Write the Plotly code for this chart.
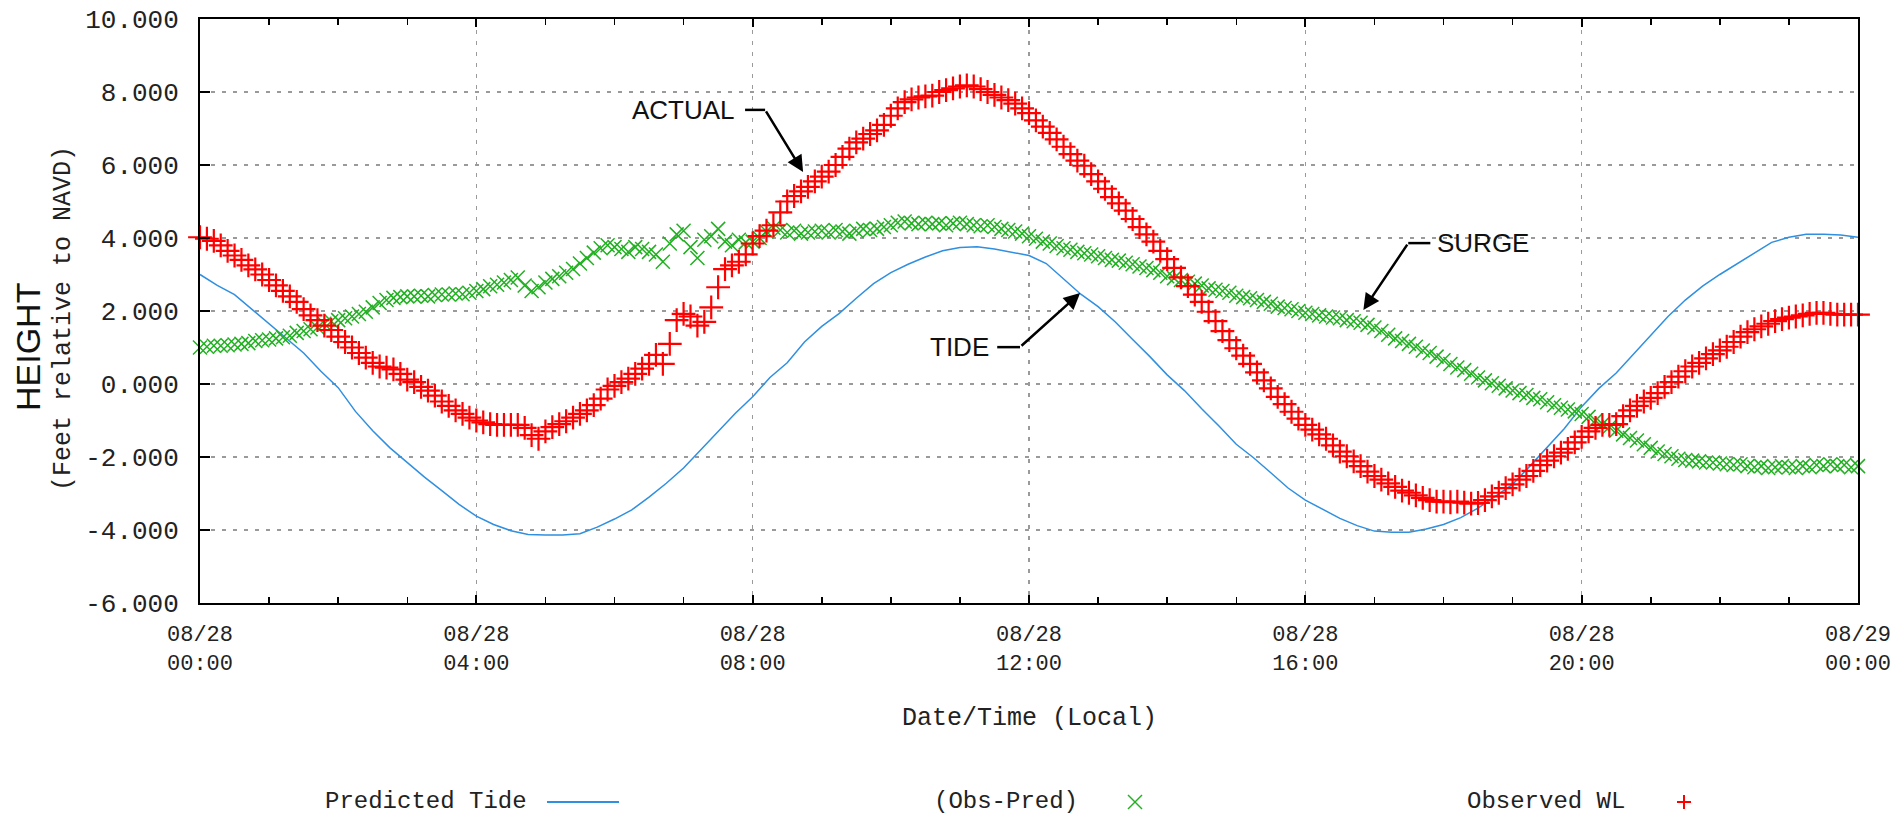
import plotly.graph_objects as go
import pandas as pd

# ---------------- data ----------------
START = "2012-08-28 00:00"
END = "2012-08-29 00:00"

# Predicted tide, every 15 minutes 00:00 .. 24:00
tide_ft = [
    3.00, 2.70, 2.45, 2.05, 1.65, 1.25, 0.85, 0.35,
    -0.10, -0.75, -1.28, -1.75, -2.15, -2.55, -2.92, -3.30,
    -3.62, -3.85, -4.02, -4.12, -4.14, -4.14, -4.10, -3.92,
    -3.70, -3.45, -3.10, -2.72, -2.30, -1.80, -1.30, -0.80,
    -0.35, 0.18, 0.58, 1.15, 1.58, 1.93, 2.35, 2.75,
    3.05, 3.28, 3.48, 3.65, 3.74, 3.76, 3.70, 3.62,
    3.52, 3.30, 2.88, 2.46, 2.12, 1.70, 1.22, 0.75,
    0.25, -0.18, -0.68, -1.15, -1.65, -2.02, -2.43, -2.85,
    -3.18, -3.43, -3.68, -3.88, -4.03, -4.06, -4.06, -3.97,
    -3.85, -3.66, -3.40, -3.08, -2.75, -2.25, -1.72, -1.22,
    -0.62, -0.12, 0.30, 0.82, 1.35, 1.85, 2.30, 2.68,
    3.00, 3.30, 3.60, 3.88, 4.02, 4.10, 4.10, 4.08,
    4.02,
]

# Observed water level, every 6 minutes 00:00 .. 24:00
observed_ft = [
    4.02, 3.98, 3.92, 3.80, 3.65, 3.52, 3.40, 3.25, 3.14, 3.00,
    2.85, 2.70, 2.55, 2.40, 2.25, 2.05, 1.88, 1.75, 1.60, 1.48,
    1.30, 1.15, 1.00, 0.85, 0.72, 0.58, 0.48, 0.45, 0.40, 0.28,
    0.12, 0.05, -0.08, -0.18, -0.32, -0.48, -0.60, -0.72, -0.82, -0.92,
    -1.00, -1.05, -1.10, -1.12, -1.12, -1.12, -1.12, -1.20, -1.40, -1.50,
    -1.30, -1.18, -1.10, -1.02, -0.92, -0.82, -0.72, -0.58, -0.40, -0.15,
    -0.05, 0.05, 0.15, 0.28, 0.42, 0.55, 0.80, 0.55, 1.10, 1.75,
    1.92, 1.85, 1.60, 1.70, 2.10, 2.65, 3.15, 3.25, 3.35, 3.55,
    3.85, 4.05, 4.20, 4.35, 4.70, 5.00, 5.15, 5.28, 5.40, 5.55,
    5.68, 5.82, 6.00, 6.22, 6.45, 6.62, 6.72, 6.85, 6.95, 7.10,
    7.35, 7.55, 7.72, 7.80, 7.85, 7.88, 7.90, 8.00, 8.05, 8.10,
    8.15, 8.18, 8.15, 8.08, 8.00, 7.92, 7.85, 7.78, 7.68, 7.55,
    7.42, 7.22, 7.05, 6.88, 6.70, 6.50, 6.30, 6.12, 5.98, 5.75,
    5.55, 5.35, 5.12, 4.95, 4.75, 4.52, 4.30, 4.10, 3.90, 3.65,
    3.42, 3.18, 2.92, 2.68, 2.45, 2.25, 1.98, 1.72, 1.45, 1.20,
    0.98, 0.78, 0.55, 0.32, 0.10, -0.12, -0.35, -0.55, -0.76, -0.95,
    -1.12, -1.25, -1.38, -1.50, -1.68, -1.85, -1.98, -2.12, -2.25, -2.40,
    -2.52, -2.62, -2.72, -2.82, -2.92, -2.98, -3.05, -3.12, -3.18, -3.22,
    -3.22, -3.24, -3.22, -3.25, -3.28, -3.26, -3.18, -3.08, -2.98, -2.85,
    -2.75, -2.62, -2.52, -2.38, -2.22, -2.10, -1.98, -1.88, -1.78, -1.60,
    -1.45, -1.30, -1.20, -1.12, -1.12, -1.10, -0.88, -0.72, -0.60, -0.48,
    -0.38, -0.25, -0.08, 0.05, 0.20, 0.35, 0.48, 0.58, 0.70, 0.82,
    0.92, 1.02, 1.15, 1.30, 1.42, 1.50, 1.58, 1.65, 1.72, 1.78,
    1.82, 1.85, 1.88, 1.92, 1.95, 1.95, 1.92, 1.90, 1.90, 1.90,
    1.90,
]

# Surge (Obs-Pred), every 6 minutes 00:00 .. 24:00
surge_ft = [
    1.00, 1.02, 1.05, 1.05, 1.06, 1.08, 1.10, 1.12, 1.18, 1.20,
    1.22, 1.25, 1.28, 1.32, 1.40, 1.45, 1.50, 1.55, 1.65, 1.72,
    1.75, 1.80, 1.85, 1.92, 1.98, 2.10, 2.22, 2.30, 2.36, 2.38,
    2.40, 2.40, 2.42, 2.40, 2.44, 2.45, 2.45, 2.48, 2.46, 2.50,
    2.55, 2.60, 2.68, 2.72, 2.78, 2.85, 2.92, 2.70, 2.55, 2.65,
    2.78, 2.88, 2.95, 3.05, 3.15, 3.30, 3.45, 3.60, 3.72, 3.80,
    3.75, 3.70, 3.62, 3.75, 3.70, 3.62, 3.55, 3.35, 3.85, 4.10,
    4.20, 3.75, 3.45, 3.95, 4.05, 4.25, 3.90, 3.80, 3.95, 3.88,
    3.90, 4.00, 4.18, 4.28, 4.22, 4.15, 4.20, 4.12, 4.15, 4.18,
    4.20, 4.15, 4.22, 4.18, 4.12, 4.20, 4.25, 4.22, 4.25, 4.30,
    4.35, 4.42, 4.45, 4.40, 4.38, 4.42, 4.38, 4.40, 4.35, 4.40,
    4.42, 4.38, 4.35, 4.32, 4.35, 4.30, 4.25, 4.22, 4.18, 4.12,
    4.05, 3.98, 3.90, 3.85, 3.78, 3.72, 3.68, 3.62, 3.58, 3.55,
    3.50, 3.45, 3.40, 3.38, 3.32, 3.28, 3.22, 3.18, 3.12, 3.05,
    2.95, 2.90, 2.85, 2.80, 2.75, 2.70, 2.62, 2.58, 2.55, 2.50,
    2.42, 2.38, 2.35, 2.30, 2.25, 2.20, 2.12, 2.08, 2.05, 2.00,
    1.95, 1.92, 1.88, 1.85, 1.82, 1.80, 1.75, 1.72, 1.68, 1.62,
    1.55, 1.45, 1.35, 1.25, 1.18, 1.10, 1.02, 0.92, 0.85, 0.75,
    0.65, 0.55, 0.45, 0.38, 0.28, 0.18, 0.10, 0.02, -0.05, -0.12,
    -0.18, -0.25, -0.30, -0.38, -0.42, -0.50, -0.58, -0.65, -0.70, -0.75,
    -0.82, -0.90, -1.00, -1.10, -1.18, -1.28, -1.38, -1.48, -1.55, -1.65,
    -1.75, -1.85, -1.92, -1.98, -2.05, -2.08, -2.10, -2.12, -2.15, -2.15,
    -2.18, -2.20, -2.22, -2.20, -2.25, -2.28, -2.25, -2.30, -2.28, -2.25,
    -2.28, -2.30, -2.25, -2.28, -2.22, -2.25, -2.20, -2.25, -2.22, -2.28,
    -2.25,
]

y_ticks = [-6, -4, -2, 0, 2, 4, 6, 8, 10]
y_tick_text = ["-6.000", "-4.000", "-2.000", "0.000", "2.000", "4.000", "6.000", "8.000", "10.000"]

tide_time = pd.date_range(START, END, periods=len(tide_ft))
obs_time = pd.date_range(START, END, periods=len(observed_ft))
surge_time = pd.date_range(START, END, periods=len(surge_ft))

# ---------------- styling ----------------
MONO = "Liberation Mono, DejaVu Sans Mono, monospace"
SANS = "Liberation Sans, Arial, sans-serif"
BLUE = "#2f8fe0"
GREEN = "#22b022"
RED = "#ff0000"
GRID = "#9a9a9a"
TXT = "#222"

fig = go.Figure()
fig.add_trace(go.Scatter(x=tide_time, y=tide_ft, mode="lines",
                         line=dict(color=BLUE, width=1.5), name="Predicted Tide"))
fig.add_trace(go.Scatter(x=surge_time, y=surge_ft, mode="markers", cliponaxis=False,
                         marker=dict(symbol="x-thin", size=14, line=dict(color=GREEN, width=1.5)),
                         name="(Obs-Pred)"))
fig.add_trace(go.Scatter(x=obs_time, y=observed_ft, mode="markers", cliponaxis=False,
                         marker=dict(symbol="cross-thin", size=17, line=dict(color=RED, width=2.2)),
                         name="Observed WL"))

# full page figure (body margin removed by the post script below)
W, H = 1897, 816
PLOT_LEFT, PLOT_TOP, PLOT_RIGHT, PLOT_BOTTOM = 200, 19, 1858, 603   # page pixels
L, T = PLOT_LEFT, PLOT_TOP
R, B = W - PLOT_RIGHT, H - PLOT_BOTTOM
PW, PH = PLOT_RIGHT - PLOT_LEFT, PLOT_BOTTOM - PLOT_TOP


def px_x(px):
    return (px - PLOT_LEFT) / PW


def px_y(py):
    return (PLOT_BOTTOM - py) / PH


def at(h):
    return (pd.Timestamp(START) + pd.Timedelta(hours=h)).strftime("%Y-%m-%d %H:%M:%S")


fig.update_layout(
    width=W, height=H,
    margin=dict(l=L, r=R, t=T, b=B, autoexpand=False),
    paper_bgcolor="white", plot_bgcolor="white",
    showlegend=False,
    font=dict(family=MONO, size=24, color=TXT),
)

fig.update_xaxes(
    type="date", range=[START, END], automargin=False,
    dtick=4 * 3600 * 1000, tick0=START,
    tickformat="%m/%d<br>%H:%M",
    tickfont=dict(family=MONO, size=22, color=TXT),
    ticks="inside", ticklen=8, tickwidth=2, tickcolor="black",
    showline=True, linecolor="black", linewidth=2, mirror="allticks",
    showgrid=True, gridcolor=GRID, gridwidth=1.5, griddash="4px,7px",
    minor=dict(dtick=3600 * 1000, ticks="inside", ticklen=6, tickwidth=1.5,
               tickcolor="black", showgrid=False),
    ticklabelstandoff=10, ticklabeloverflow="allow",
    zeroline=False,
)
fig.update_yaxes(
    range=[-6, 10], automargin=False, tickvals=y_ticks, ticktext=y_tick_text,
    tickfont=dict(family=MONO, size=26, color=TXT),
    ticks="inside", ticklen=10, tickwidth=2, tickcolor="black",
    showline=True, linecolor="black", linewidth=2, mirror=True,
    showgrid=True, gridcolor=GRID, gridwidth=1.5, griddash="4px,7px",
    ticklabelstandoff=14, ticklabeloverflow="allow",
    zeroline=False,
)

ann = []
# axis titles
ann.append(dict(text="Date/Time (Local)", xref="paper", yref="paper",
                x=0.5, y=px_y(718), xanchor="center", yanchor="middle",
                showarrow=False, font=dict(family=MONO, size=25, color=TXT)))
ann.append(dict(text="HEIGHT", xref="paper", yref="paper", textangle=-90,
                x=px_x(28), y=px_y(347), xanchor="center", yanchor="middle",
                showarrow=False, font=dict(family=SANS, size=34, color="#111")))
ann.append(dict(text="(Feet relative to NAVD)", xref="paper", yref="paper", textangle=-90,
                x=px_x(63), y=px_y(319), xanchor="center", yanchor="middle",
                showarrow=False, font=dict(family=MONO, size=25, color=TXT)))

# legend (text followed by sample, gnuplot style)
LEG_Y = px_y(801)
LEG_FONT = dict(family=MONO, size=24, color=TXT)
ann.append(dict(text="Predicted Tide", xref="paper", yref="paper", x=px_x(529), y=LEG_Y,
                xanchor="right", yanchor="middle", showarrow=False, font=LEG_FONT))
ann.append(dict(text="(Obs-Pred)", xref="paper", yref="paper", x=px_x(1080), y=LEG_Y,
                xanchor="right", yanchor="middle", showarrow=False, font=LEG_FONT))
ann.append(dict(text="Observed WL", xref="paper", yref="paper", x=px_x(1627), y=LEG_Y,
                xanchor="right", yanchor="middle", showarrow=False, font=LEG_FONT))

shapes = []
LEG_MY = px_y(802)
shapes.append(dict(type="line", xref="paper", yref="paper",
                   x0=px_x(547), x1=px_x(619), y0=LEG_MY, y1=LEG_MY,
                   line=dict(color=BLUE, width=2)))
dx, dy = 7 / PW, 7 / PH
gx = px_x(1135)
shapes.append(dict(type="line", xref="paper", yref="paper", x0=gx - dx, x1=gx + dx,
                   y0=LEG_MY - dy, y1=LEG_MY + dy, line=dict(color=GREEN, width=1.4)))
shapes.append(dict(type="line", xref="paper", yref="paper", x0=gx - dx, x1=gx + dx,
                   y0=LEG_MY + dy, y1=LEG_MY - dy, line=dict(color=GREEN, width=1.4)))
rx = px_x(1684)
shapes.append(dict(type="line", xref="paper", yref="paper", x0=rx - dx, x1=rx + dx,
                   y0=LEG_MY, y1=LEG_MY, line=dict(color=RED, width=2)))
shapes.append(dict(type="line", xref="paper", yref="paper", x0=rx, x1=rx,
                   y0=LEG_MY - dy, y1=LEG_MY + dy, line=dict(color=RED, width=2)))

# callouts: label, text x (h), anchor, leader start/kink (h), leader y (ft), arrow head (h, ft)
callouts = [
    ("ACTUAL", 7.77, "right", 7.89, 8.18, 7.51, 8.73, 5.81),
    ("TIDE", 11.45, "right", 11.54, 11.87, 1.01, 12.74, 2.49),
    ("SURGE", 17.88, "left", 17.81, 17.49, 3.86, 16.84, 2.03),
]
for label, tx, anchor, hx0, hx1, ly, hx, hy in callouts:
    ann.append(dict(text=label, x=at(tx), y=ly, xref="x", yref="y",
                    xanchor=anchor, yanchor="middle", showarrow=False,
                    font=dict(family=SANS, size=26, color="#111")))
    shapes.append(dict(type="line", xref="x", yref="y", x0=at(hx0), x1=at(hx1),
                       y0=ly, y1=ly, line=dict(color="black", width=2.5)))
    ann.append(dict(text="", x=at(hx), y=hy, xref="x", yref="y",
                    ax=at(hx1), ay=ly, axref="x", ayref="y",
                    showarrow=True, arrowhead=2, arrowsize=1.3, arrowwidth=2.5,
                    arrowcolor="black", standoff=0, startstandoff=0))

fig.update_layout(annotations=ann, shapes=shapes)
fig.write_html(
    "out.html",
    config={"displayModeBar": False, "staticPlot": True},
    post_script="document.body.style.margin='0px';document.body.style.overflow='hidden';",
)
